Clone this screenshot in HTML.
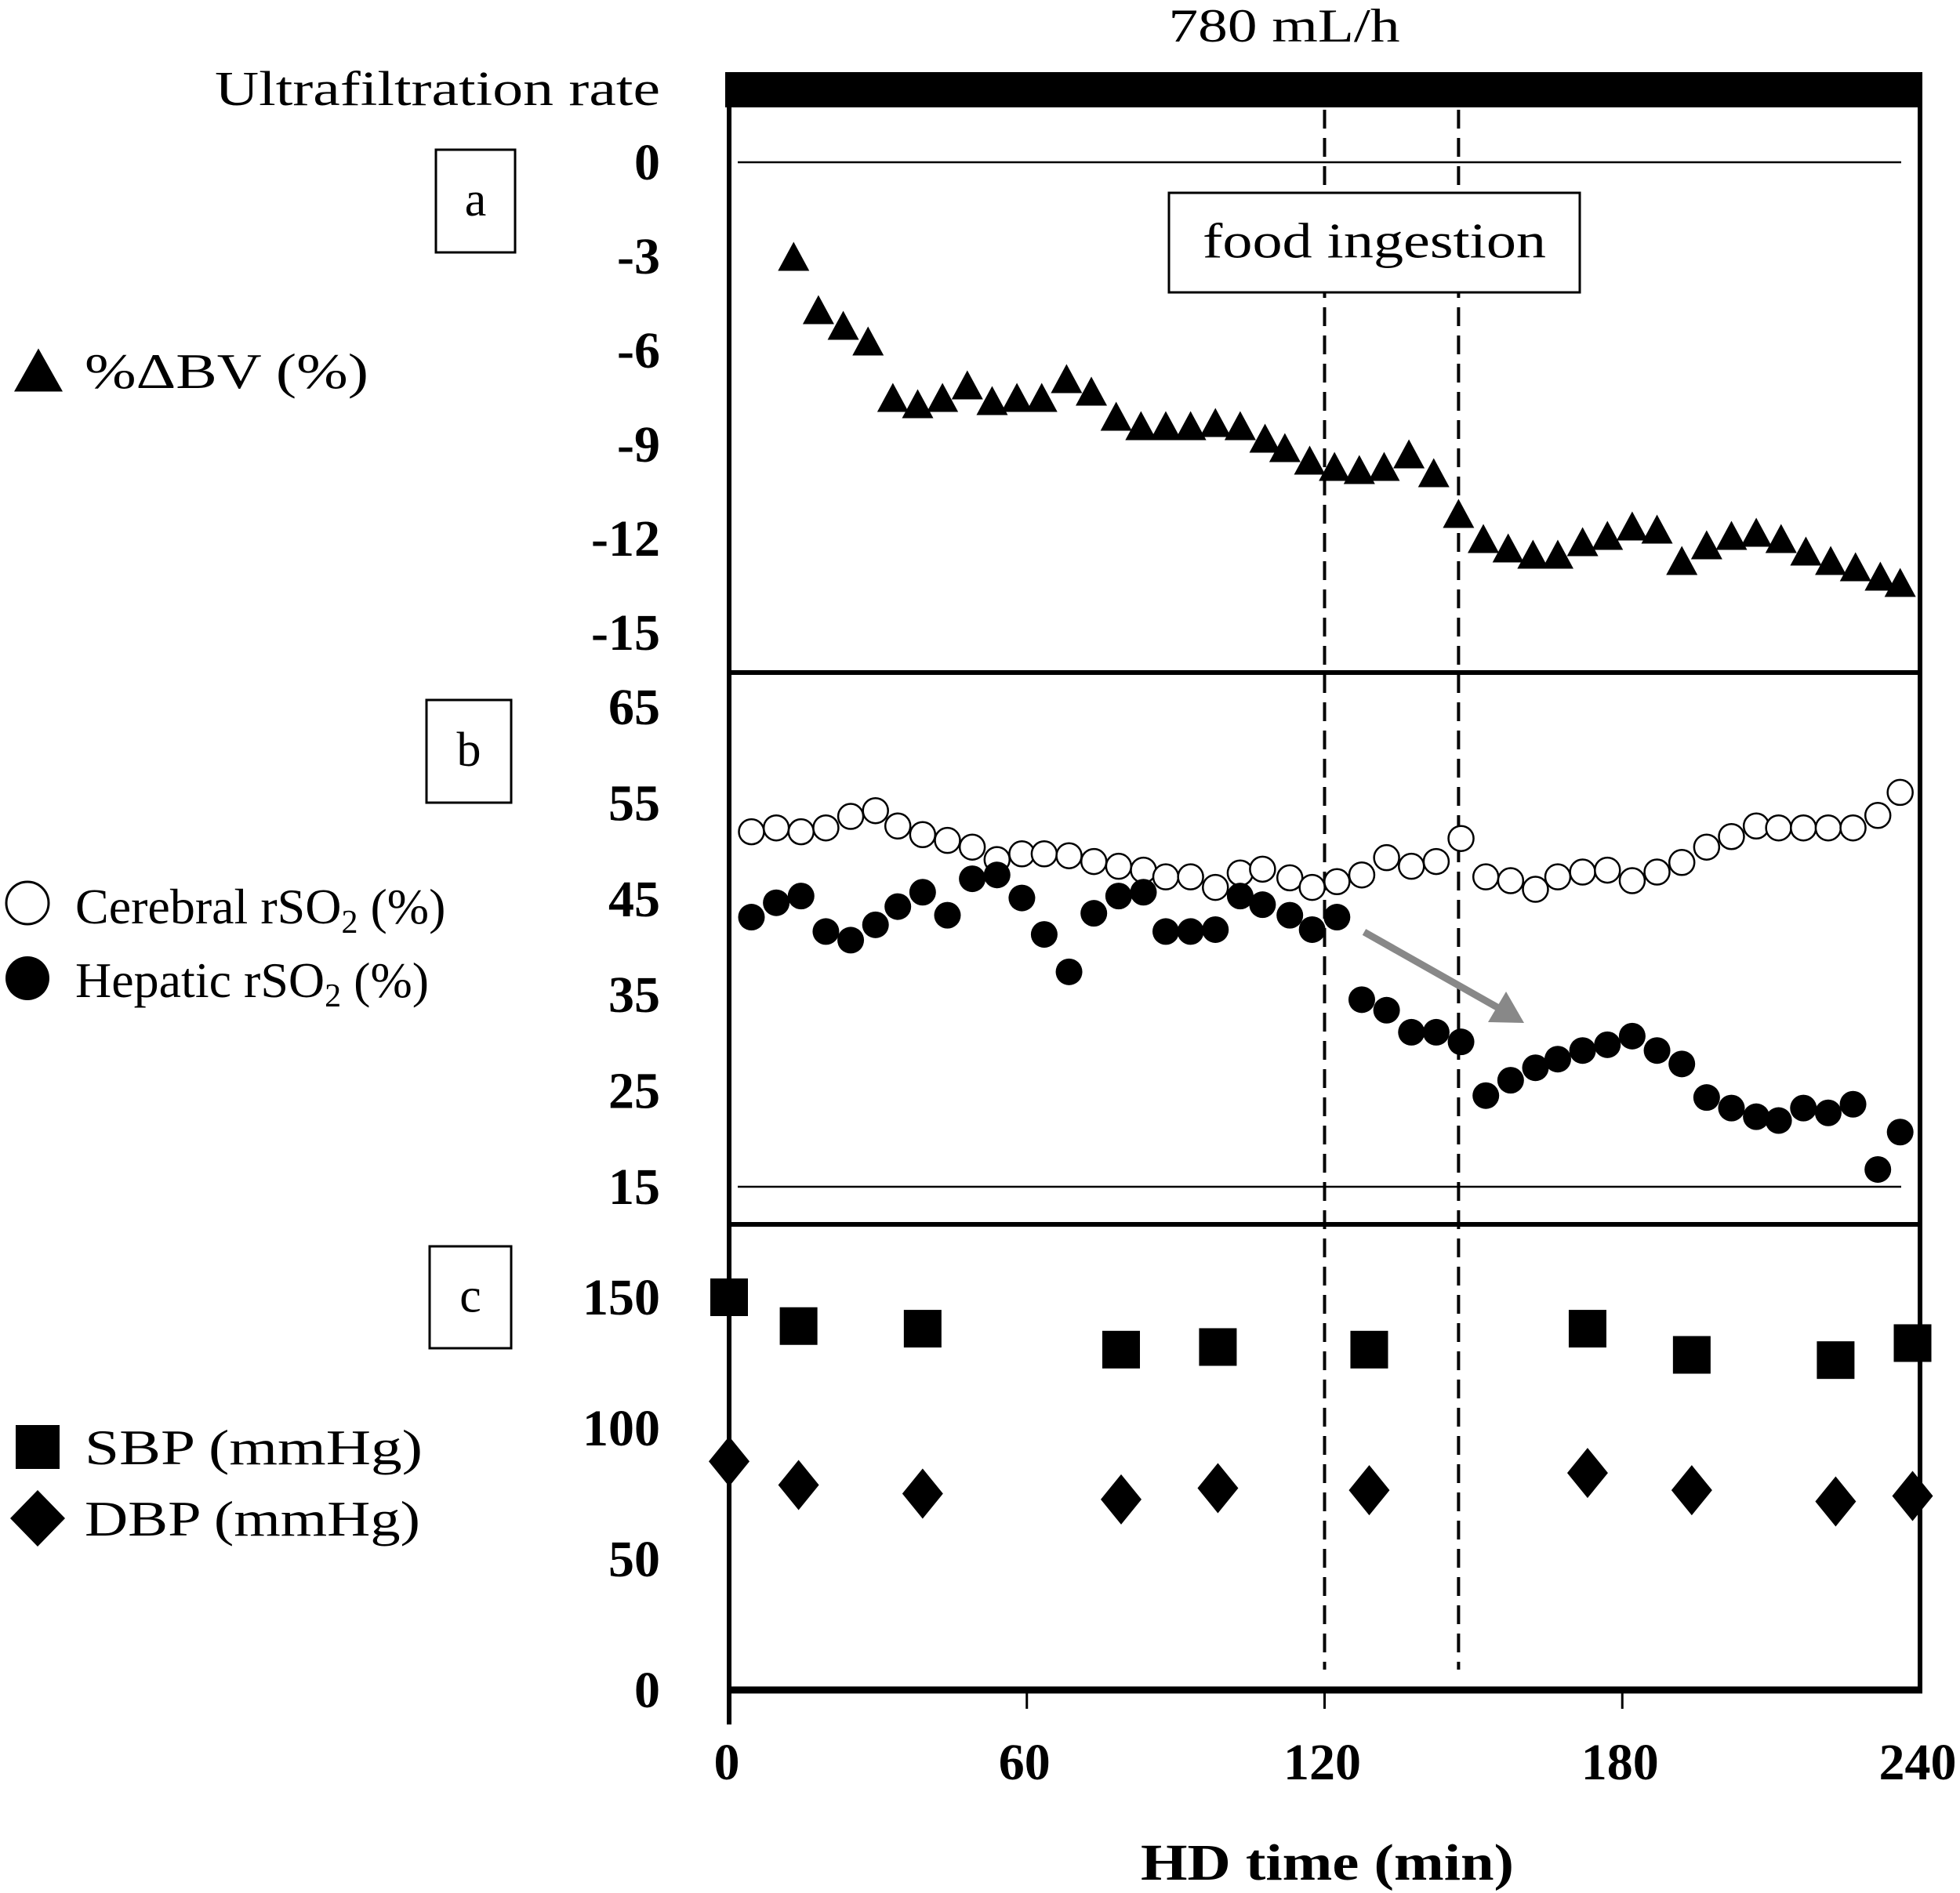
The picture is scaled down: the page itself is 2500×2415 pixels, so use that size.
<!DOCTYPE html>
<html><head><meta charset="utf-8"><style>
html,body{margin:0;padding:0;background:#fff;}
svg{display:block;font-family:"Liberation Serif",serif;}
</style></head><body>
<svg id="chart" width="2500" height="2415" viewBox="0 0 2500 2415" xmlns="http://www.w3.org/2000/svg">
<rect width="2500" height="2415" fill="#fff"/>
<text x="1638" y="53" font-size="60" text-anchor="middle" textLength="295" lengthAdjust="spacingAndGlyphs">780 mL/h</text>
<text x="842" y="134" font-size="62" text-anchor="end" textLength="568" lengthAdjust="spacingAndGlyphs">Ultrafiltration rate</text>
<rect x="925" y="92" width="1527" height="45" fill="#000"/>
<g id="frame"></g>
<g id="marks"></g>
</svg>
<script>
// ---- data ----
const bvTimes = [13,18,23,28,33,38,43,48,53,58,63,68,73,78,83,88,93,98,103,108,112,117,122,127,132,137,142,147,152,157,162,167,172,177,182,187,192,197,202,207,212,217,222,227,232,236];
const bvValues = [-3.0,-4.7,-5.2,-5.7,-7.5,-7.7,-7.5,-7.1,-7.6,-7.5,-7.5,-6.9,-7.3,-8.1,-8.4,-8.4,-8.4,-8.3,-8.4,-8.8,-9.1,-9.5,-9.7,-9.8,-9.7,-9.3,-9.9,-11.2,-12.0,-12.3,-12.5,-12.5,-12.1,-11.9,-11.6,-11.7,-12.7,-12.2,-11.9,-11.8,-12.0,-12.4,-12.7,-12.9,-13.2,-13.4];
const rsoTimes = [4.5,9.5,14.5,19.5,24.5,29.5,34,39,44,49,54,59,63.5,68.5,73.5,78.5,83.5,88,93,98,103,107.5,113,117.5,122.5,127.5,132.5,137.5,142.5,147.5,152.5,157.5,162.5,167,172,177,182,187,192,197,202,207,211.5,216.5,221.5,226.5,231.5,236];
const cerebral = [52.0,52.4,52.0,52.4,53.6,54.2,52.6,51.7,51.1,50.4,49.1,49.7,49.7,49.5,48.9,48.4,48.0,47.3,47.3,46.2,47.7,48.1,47.2,46.2,46.8,47.5,49.3,48.4,48.9,51.3,47.3,46.9,46.0,47.3,47.8,48.0,46.9,47.8,48.8,50.4,51.5,52.6,52.4,52.4,52.4,52.4,53.7,56.1];
const hepatic = [43.1,44.6,45.3,41.6,40.7,42.3,44.2,45.7,43.3,47.1,47.5,45.1,41.3,37.4,43.5,45.3,45.7,41.6,41.6,41.8,45.3,44.4,43.3,41.8,43.1,34.5,33.4,31.1,31.1,30.1,24.5,26.1,27.4,28.3,29.2,29.8,30.7,29.2,27.8,24.3,23.2,22.3,21.9,23.2,22.7,23.6,16.8,20.7];
const bpTimes = [0,14,39,79,98.5,129,173,194,223,238.5];
const sbp = [150,139,138,130,131,130,138,128,126,132.5];
const dbp = [87.3,78.3,75,72.8,77.1,76.3,82.9,76.3,72,74.1];
const xTicks = [0,60,120,180,240];
const aTicks = [0,-3,-6,-9,-12,-15];
const bTicks = [65,55,45,35,25,15];
const cTicks = [150,100,50,0];
const foodTimes = [120,147];

// ---- axis functions ----
const X0=930, X1=2449;
const xs = t => X0 + t*(X1-X0)/240;
const ya = v => 207 + (-v)*40;
const yb = v => 1514 - (v-15)*12.24;
const yc = v => 2156 - v*3.34;

const NS="http://www.w3.org/2000/svg";
function mk(tag, attrs, parent){
  const e=document.createElementNS(NS,tag);
  for(const k in attrs) e.setAttribute(k,attrs[k]);
  parent.appendChild(e); return e;
}
const frame=document.getElementById('frame');
const marks=document.getElementById('marks');

let l;
l=mk('line',{x1:X0,y1:137,x2:X0,y2:2200,stroke:'#000','stroke-width':6},frame);


l=mk('line',{x1:X1,y1:92,x2:X1,y2:2160,stroke:'#000','stroke-width':6},frame);


l=mk('line',{x1:X0,y1:858,x2:X1+3,y2:858,stroke:'#000','stroke-width':6},frame);


l=mk('line',{x1:X0,y1:1562,x2:X1+3,y2:1562,stroke:'#000','stroke-width':6},frame);


l=mk('line',{x1:X0,y1:2156,x2:X1+3,y2:2156,stroke:'#000','stroke-width':9},frame);


l=mk('line',{x1:941,y1:ya(0),x2:2425,y2:ya(0),stroke:'#000','stroke-width':2.5},frame);


l=mk('line',{x1:941,y1:yb(15),x2:2425,y2:yb(15),stroke:'#000','stroke-width':2.5},frame);



foodTimes.forEach(t=>{
  const d=mk('line',{x1:xs(t),y1:140,x2:xs(t),y2:2130,stroke:'#000','stroke-width':4,'stroke-dasharray':'24 12'},frame);
  
  
});

xTicks.forEach(t=>{
  if(t>0 && t<240){
    const tk=mk('line',{x1:xs(t),y1:2156,x2:xs(t),y2:2180,stroke:'#000','stroke-width':3},frame);
    
    
  }
  const tx=mk('text',{x:xs(t)-3,y:2270,'font-size':66,'font-weight':'bold','text-anchor':'middle'},frame);
  tx.textContent=t;
  
  
});
function ytick(arr,fn,name){
  arr.forEach(v=>{
    const tx=mk('text',{x:842,y:fn(v)+22,'font-size':66,'font-weight':'bold','text-anchor':'end'},frame);
    tx.textContent=v;
    
    
  });
}
ytick(aTicks,ya,'bv-tick-label');
ytick(bTicks,yb,'rso2-tick-label');
ytick(cTicks,yc,'bp-tick-label');

let tt=mk('text',{x:1693,y:2398,'font-size':66,'font-weight':'bold','text-anchor':'middle',textLength:476,lengthAdjust:'spacingAndGlyphs'},frame);
tt.textContent='HD time (min)';



function box(x,y,w,h,txt,name,fs){
  const g=mk('g',{},frame);
  
  
  mk('rect',{x:x,y:y,width:w,height:h,fill:'#fff',stroke:'#000','stroke-width':3},g);
  const t=mk('text',{x:x+w/2,y:y+h/2+fs*0.3,'font-size':fs,'text-anchor':'middle'},g);
  t.textContent=txt;
  return g;
}
box(556,191,101,131,'a','panel-a-label',62);
box(544,893,108,131,'b','panel-b-label',62);
box(548,1590,104,130,'c','panel-c-label',62);
const fb=box(1491,246,524,127,'food ingestion','food-ingestion-box',64);
fb.querySelector('text').setAttribute('textLength',438);
fb.querySelector('text').setAttribute('lengthAdjust','spacingAndGlyphs');

const ar=mk('g',{},frame);


mk('line',{x1:1740,y1:1189,x2:1915,y2:1288,stroke:'#888','stroke-width':9},ar);
mk('polygon',{points:'1944,1305 1898,1304 1921,1265',fill:'#888'},ar);

function tri(cx,cy,w,h,parent){return mk('polygon',{points:`${cx},${cy-h/2} ${cx+w/2},${cy+h/2} ${cx-w/2},${cy+h/2}`,fill:'#000'},parent);}
bvTimes.forEach((t,i)=>{
  const p=tri(xs(t),ya(bvValues[i]),40,37,marks);
  
  
});
rsoTimes.forEach((t,i)=>{
  const c=mk('circle',{cx:xs(t),cy:yb(cerebral[i]),r:16,fill:'#fff',stroke:'#000','stroke-width':2.5},marks);
  
  
});
rsoTimes.forEach((t,i)=>{
  const c=mk('circle',{cx:xs(t),cy:yb(hepatic[i]),r:17,fill:'#000'},marks);
  
  
});
bpTimes.forEach((t,i)=>{
  const s=mk('rect',{x:xs(t)-24,y:yc(sbp[i])-24,width:48,height:48,fill:'#000'},marks);
  
  
  const cx=xs(t), cy=yc(dbp[i]);
  const d=mk('polygon',{points:`${cx},${cy-32} ${cx+26},${cy} ${cx},${cy+32} ${cx-26},${cy}`,fill:'#000'},marks);
  
  
});

function ltext(x,y,txt,w,name){
  const t=mk('text',{x:x,y:y,'font-size':64,textLength:w,lengthAdjust:'spacingAndGlyphs'},frame);
  t.textContent=txt;
  
  
  return t;
}
let lm=tri(49,472,62,55,frame);


ltext(108,495,'%ΔBV (%)',362,'legend-bv-label');
lm=mk('circle',{cx:35,cy:1152,r:27,fill:'#fff',stroke:'#000','stroke-width':3},frame);


let ct=mk('text',{x:96,y:1178,'font-size':64},frame);
ct.innerHTML='Cerebral rSO<tspan font-size="42" dy="12">2</tspan><tspan dy="-12"> (%)</tspan>';


lm=mk('circle',{cx:35,cy:1248,r:28,fill:'#000'},frame);


let ht=mk('text',{x:96,y:1272,'font-size':64},frame);
ht.innerHTML='Hepatic rSO<tspan font-size="42" dy="12">2</tspan><tspan dy="-12"> (%)</tspan>';


lm=mk('rect',{x:20,y:1818,width:56,height:56,fill:'#000'},frame);


ltext(108,1868,'SBP  (mmHg)',431,'legend-sbp-label').setAttribute('xml:space','preserve');
lm=mk('polygon',{points:'48,1901 83,1937 48,1973 13,1937',fill:'#000'},frame);


ltext(108,1959,'DBP (mmHg)',428,'legend-dbp-label');
</script>
</body></html>
